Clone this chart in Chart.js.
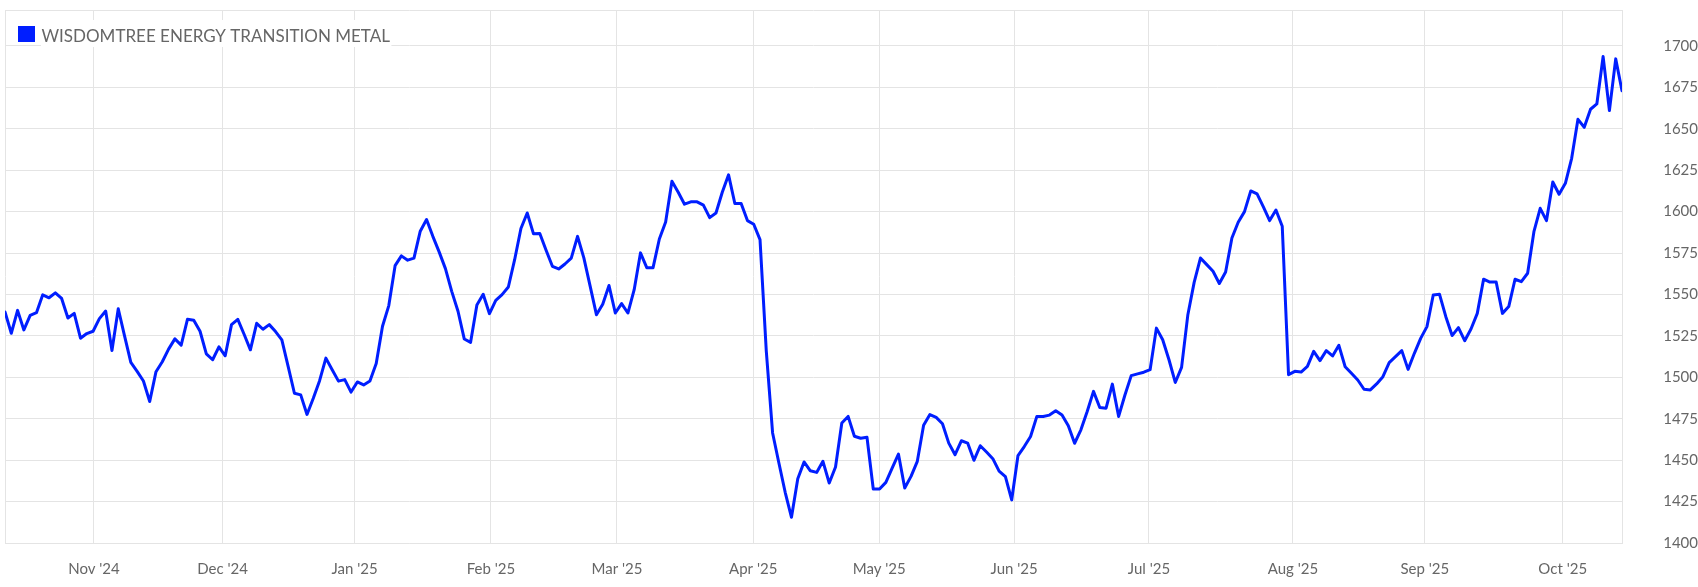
<!DOCTYPE html>
<html>
<head>
<meta charset="utf-8">
<title>WisdomTree Energy Transition Metal</title>
<script src="https://cdn.jsdelivr.net/npm/chart.js@4.4.1/dist/chart.umd.min.js"></script>
<style>
  html, body { margin: 0; padding: 0; background: #fff; }
  #wrap { width: 1698px; height: 587px; }
</style>
</head>
<body>
<div id="wrap"><canvas id="myETMChart" width="1698" height="587"></canvas></div>
<script>
const seriesName = "WISDOMTREE ENERGY TRANSITION METAL";

// daily closes, mid Oct 2024 -> mid Oct 2025
const prices = [
  1539.4, 1526.6, 1540.4, 1528.6, 1537.4, 1539.0, 1549.8, 1548.0, 1551.0, 1547.6,
  1535.8, 1538.6, 1523.6, 1526.4, 1527.8, 1535.4, 1540.0, 1516.2, 1541.4, 1525.0,
  1509.0, 1503.6, 1497.8, 1485.4, 1503.4, 1509.4, 1517.0, 1523.2, 1519.4, 1535.0,
  1534.4, 1527.8, 1514.2, 1510.6, 1518.4, 1513.0, 1531.8, 1535.0, 1526.0, 1516.6,
  1532.6, 1529.0, 1531.8, 1527.6, 1522.6, 1506.6, 1490.4, 1489.4, 1477.6, 1487.4,
  1498.0, 1511.6, 1504.6, 1497.7, 1498.6, 1491.1, 1497.2, 1495.4, 1497.8, 1508.3,
  1530.8, 1543.3, 1567.4, 1573.3, 1570.7, 1571.9, 1588.2, 1595.2, 1585.1, 1575.7,
  1565.6, 1551.9, 1539.9, 1523.1, 1521.1, 1543.7, 1550.1, 1538.4, 1546.5, 1549.9,
  1554.5, 1571.0, 1589.8, 1599.2, 1586.6, 1586.8, 1576.7, 1567.0, 1565.4, 1568.4,
  1571.9, 1585.1, 1572.1, 1555.0, 1537.8, 1544.1, 1555.4, 1538.8, 1544.5, 1538.8,
  1552.9, 1575.1, 1566.2, 1566.2, 1583.5, 1593.8, 1618.4, 1611.7, 1604.5, 1605.9,
  1605.9, 1603.9, 1596.4, 1599.2, 1611.7, 1622.2, 1604.9, 1604.9, 1594.6, 1592.4,
  1583.1, 1515.7, 1466.4, 1448.3, 1430.6, 1415.5, 1438.8, 1448.9, 1443.6, 1442.6,
  1449.3, 1436.2, 1445.9, 1472.4, 1476.4, 1464.4, 1463.2, 1463.8, 1432.6, 1432.6,
  1436.6, 1445.2, 1453.7, 1433.2, 1440.2, 1449.3, 1471.0, 1477.5, 1475.8, 1472.0,
  1460.3, 1453.3, 1461.7, 1460.3, 1449.9, 1458.7, 1454.9, 1450.9, 1443.4, 1440.1,
  1426.0, 1452.8, 1458.2, 1464.3, 1476.4, 1476.4, 1477.2, 1479.8, 1477.2, 1470.7,
  1460.2, 1468.3, 1479.4, 1491.5, 1481.8, 1481.4, 1495.9, 1476.4, 1489.3, 1501.0,
  1502.1, 1503.1, 1504.6, 1529.7, 1522.7, 1510.6, 1496.9, 1506.0, 1537.8, 1557.3,
  1572.0, 1568.0, 1564.0, 1556.6, 1563.6, 1584.1, 1593.6, 1600.0, 1612.5, 1610.7,
  1602.9, 1594.6, 1601.0, 1591.2, 1501.6, 1503.6, 1503.2, 1506.6, 1515.7, 1510.1,
  1516.1, 1512.9, 1519.3, 1506.4, 1502.4, 1498.4, 1492.8, 1492.4, 1496.0, 1500.4,
  1508.9, 1512.5, 1516.1, 1504.8, 1514.5, 1523.5, 1530.6, 1549.7, 1550.1, 1536.6,
  1525.2, 1530.0, 1522.1, 1529.2, 1538.6, 1559.2, 1557.5, 1557.5, 1538.6, 1542.7,
  1559.2, 1557.7, 1562.8, 1587.9, 1602.0, 1594.6, 1617.9, 1610.5, 1617.1, 1632.2,
  1655.7, 1650.9, 1661.8, 1665.0, 1693.6, 1661.0, 1692.2, 1673.0
];

// month ticks: label + position on the trading-day index axis
const monthLabels = ["Nov '24", "Dec '24", "Jan '25", "Feb '25", "Mar '25", "Apr '25",
  "May '25", "Jun '25", "Jul '25", "Aug '25", "Sep '25", "Oct '25"];
const monthPos = [14.14, 34.58, 55.55, 77.24, 97.26, 118.92, 138.94, 160.38, 181.82,
  204.69, 225.66, 247.58];

const yTicks = [1400, 1425, 1450, 1475, 1500, 1525, 1550, 1575, 1600, 1625, 1650, 1675, 1700];
const yMin = 1400;
const yMax = 1721.7;

const lineColor = "rgb(0, 30, 255)";
const gridColor = "#e4e4e4";
const textColor = "#666666";

// legend drawn inside the plot, top-left, on a white strip
const insideLegend = {
  id: "insideLegend",
  afterDraw(chart) {
    const ctx = chart.ctx;
    ctx.save();
    ctx.font = "17px Lato";
    const w = ctx.measureText(seriesName).width;
    ctx.fillStyle = "#ffffff";
    ctx.fillRect(41, 20, w + 2, 27);
    ctx.fillStyle = lineColor;
    ctx.fillRect(18, 26, 17, 16);
    ctx.fillStyle = textColor;
    ctx.textBaseline = "alphabetic";
    ctx.fillText(seriesName, 41.5, 41.5);
    ctx.restore();
  },
};

let myETMChart;
const generateETMChart = () => {
  let ctx = document.getElementById("myETMChart").getContext("2d");
  if (myETMChart) {
    myETMChart.destroy();
  }
  Chart.defaults.font.family = "Lato";
  myETMChart = new Chart(ctx, {
    type: "line",
    data: {
      datasets: [
        {
          label: seriesName,
          data: prices.map((p, i) => ({ x: i, y: p })),
          borderColor: lineColor,
          borderWidth: 3,
          borderJoinStyle: "round",
          borderCapStyle: "round",
          pointRadius: 0,
          tension: 0,
          fill: false,
        },
      ],
    },
    options: {
      responsive: false,
      animation: false,
      devicePixelRatio: 1,
      layout: {
        padding: { left: 5, top: 10, right: 0, bottom: 0 },
      },
      plugins: {
        legend: { display: false },
        tooltip: { enabled: false },
      },
      scales: {
        x: {
          type: "linear",
          min: 0,
          max: prices.length - 1,
          afterBuildTicks: (scale) => {
            scale.ticks = [0, ...monthPos, prices.length - 1].map((v) => ({ value: v }));
          },
          afterFit: (scale) => {
            scale.height = 44;
          },
          grid: { color: gridColor, tickLength: 17, tickColor: "rgba(0,0,0,0)" },
          border: { color: gridColor },
          ticks: {
            autoSkip: false,
            maxRotation: 0,
            padding: 0,
            color: textColor,
            font: { size: 15 },
            callback: (value, index) => monthLabels[index - 1] || "",
          },
        },
        y: {
          type: "linear",
          position: "right",
          min: yMin,
          max: yMax,
          afterBuildTicks: (scale) => {
            scale.ticks = [...yTicks, yMax].map((v) => ({ value: v }));
          },
          afterFit: (scale) => {
            scale.width = 76;
          },
          grid: { color: gridColor, tickLength: 31, tickColor: "rgba(0,0,0,0)" },
          border: { color: gridColor },
          ticks: {
            crossAlign: "far",
            padding: 0,
            color: textColor,
            font: { size: 15 },
            callback: (value) => (yTicks.includes(value) ? String(value) : ""),
          },
        },
      },
    },
    plugins: [insideLegend],
  });
};

generateETMChart();
</script>
</body>
</html>
